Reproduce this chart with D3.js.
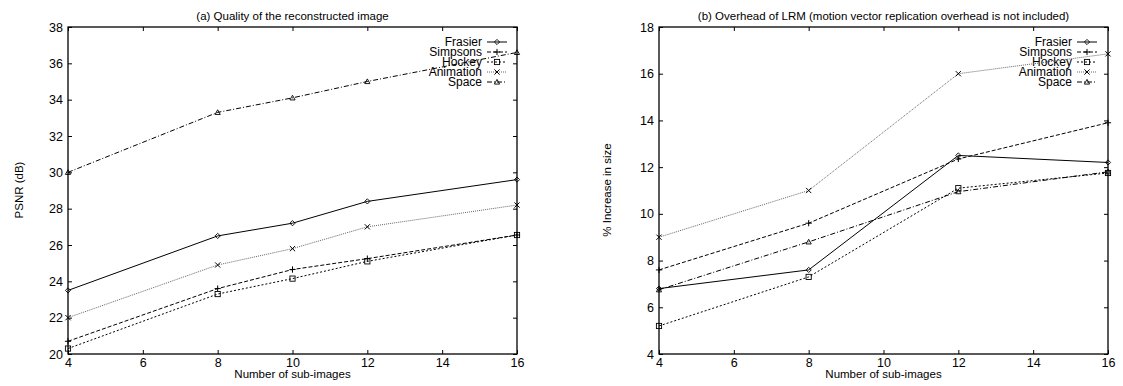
<!DOCTYPE html>
<html>
<head>
<meta charset="utf-8">
<script src="https://cdn.jsdelivr.net/npm/d3@7"></script>
<style>
  body { margin: 0; background: #fff; }
  text { font-family: "Liberation Sans", Arial, sans-serif; fill: #000; }
</style>
</head>
<body>
<div id="chart"></div>
<script>
var seriesNames = ["Frasier", "Simpsons", "Hockey", "Animation", "Space"];

// (a) PSNR in dB
var xA = [4, 8, 10, 12, 16];
var frasierA = [23.5, 26.5, 27.2, 28.4, 29.6];
var simpsonsA = [20.7, 23.6, 24.65, 25.25, 26.55];
var hockeyA = [20.3, 23.3, 24.15, 25.1, 26.55];
var animationA = [22.0, 24.9, 25.8, 27.0, 28.2];
var spaceA = [30.0, 33.3, 34.1, 35.0, 36.6];

// (b) % increase in size
var xB = [4, 8, 12, 16];
var frasierB = [6.8, 7.6, 12.5, 12.2];
var simpsonsB = [7.6, 9.6, 12.35, 13.9];
var hockeyB = [5.2, 7.3, 11.1, 11.75];
var animationB = [9.0, 11.0, 16.0, 16.85];
var spaceB = [6.75, 8.8, 10.95, 11.8];

var xTicks = [4, 6, 8, 10, 12, 14, 16];
var yTicksA = [20, 22, 24, 26, 28, 30, 32, 34, 36, 38];
var yTicksB = [4, 6, 8, 10, 12, 14, 16, 18];

var styles = {
    "Frasier": { dash: null, stroke: "#000", width: 1 },
    "Simpsons": { dash: "4,2", stroke: "#000", width: 1 },
    "Hockey": { dash: "2,2", stroke: "#000", width: 1 },
    "Animation": { dash: "1,1", stroke: "#666", width: 1 },
    "Space": { dash: "5,2,1,2", stroke: "#000", width: 1 }
};

var width = 1123, height = 386;
var svg = d3.select("#chart").append("svg").attr("width", width).attr("height", height);

function marker(g, name, x, y) {
    var s = 2.6;
    if (name == "Frasier") {
        g.append("path").attr("d", "M" + x + "," + (y - s) + "L" + (x + s) + "," + y + "L" + x + "," + (y + s) + "L" + (x - s) + "," + y + "Z")
            .attr("fill", "none").attr("stroke", "#000").attr("stroke-width", 0.9);
    } else if (name == "Simpsons") {
        g.append("path").attr("d", "M" + (x - s - 0.5) + "," + y + "H" + (x + s + 0.5) + "M" + x + "," + (y - s - 0.5) + "V" + (y + s + 0.5))
            .attr("stroke", "#000").attr("stroke-width", 1);
    } else if (name == "Hockey") {
        g.append("rect").attr("x", x - s).attr("y", y - s).attr("width", 2 * s).attr("height", 2 * s)
            .attr("fill", "none").attr("stroke", "#000").attr("stroke-width", 0.9);
    } else if (name == "Animation") {
        g.append("path").attr("d", "M" + (x - s) + "," + (y - s) + "L" + (x + s) + "," + (y + s) + "M" + (x + s) + "," + (y - s) + "L" + (x - s) + "," + (y + s))
            .attr("stroke", "#000").attr("stroke-width", 1);
    } else {
        g.append("path").attr("d", "M" + x + "," + (y - s) + "L" + (x + s) + "," + (y + s * 0.8) + "L" + (x - s) + "," + (y + s * 0.8) + "Z")
            .attr("fill", "none").attr("stroke", "#000").attr("stroke-width", 0.9);
    }
}

function drawPanel(opt) {
    var x = d3.scaleLinear().domain([4, 16]).range([opt.left, opt.right]);
    var y = d3.scaleLinear().domain(opt.yDomain).range([354, 27]);
    var g = svg.append("g");

    // ticks inward on all four sides
    g.append("g").attr("transform", "translate(0,354)")
        .call(d3.axisBottom(x).tickValues(xTicks).tickSizeInner(-4).tickSizeOuter(0).tickPadding(4))
        .call(function(a) { a.select(".domain").remove(); });
    g.append("g").attr("transform", "translate(0,27)")
        .call(d3.axisTop(x).tickValues(xTicks).tickSizeInner(-4).tickSizeOuter(0).tickFormat(""))
        .call(function(a) { a.select(".domain").remove(); });
    g.append("g").attr("transform", "translate(" + opt.left + ",0)")
        .call(d3.axisLeft(y).tickValues(opt.yTicks).tickSizeInner(-4).tickSizeOuter(0).tickPadding(5))
        .call(function(a) { a.select(".domain").remove(); });
    g.append("g").attr("transform", "translate(" + opt.right + ",0)")
        .call(d3.axisRight(y).tickValues(opt.yTicks).tickSizeInner(-4).tickSizeOuter(0).tickFormat(""))
        .call(function(a) { a.select(".domain").remove(); });
    g.selectAll(".tick line").attr("stroke", "#000");
    g.selectAll(".tick text").style("font-family", "Liberation Sans, Arial, sans-serif").style("font-size", "12.5px").attr("fill", "#000");

    g.append("rect").attr("x", opt.left).attr("y", 27).attr("width", opt.right - opt.left).attr("height", 327)
        .attr("fill", "none").attr("stroke", "#000").attr("stroke-width", 1.3);

    var line = d3.line().x(function(d) { return x(d[0]); }).y(function(d) { return y(d[1]); });

    opt.series.forEach(function(vals, i) {
        var name = seriesNames[i];
        var st = styles[name];
        var pts = opt.xs.map(function(v, j) { return [v, vals[j]]; });
        g.append("path").datum(pts).attr("d", line).attr("fill", "none")
            .attr("stroke", st.stroke).attr("stroke-width", st.width)
            .attr("stroke-dasharray", st.dash);
        pts.forEach(function(p) { marker(g, name, x(p[0]), y(p[1])); });

        // legend (rows are packed tightly, as in the original)
        var ly = 42 + i * 10;
        g.append("text").attr("x", opt.legendX).attr("y", ly).attr("dy", "0.35em")
            .attr("text-anchor", "end").style("font-size", "12px").text(name);
        g.append("line").attr("x1", opt.legendX + 5).attr("x2", opt.legendX + 25).attr("y1", ly).attr("y2", ly)
            .attr("stroke", st.stroke).attr("stroke-width", st.width).attr("stroke-dasharray", st.dash);
        marker(g, name, opt.legendX + 15, ly);
    });

    g.append("text").attr("x", (opt.left + opt.right) / 2).attr("y", 20).attr("text-anchor", "middle")
        .style("font-size", "11.5px").text(opt.title);
    g.append("text").attr("x", (opt.left + opt.right) / 2).attr("y", 378).attr("text-anchor", "middle")
        .style("font-size", "11.5px").text("Number of sub-images");
    g.append("text").attr("transform", "translate(" + opt.yLabelX + ",190) rotate(-90)").attr("text-anchor", "middle")
        .style("font-size", "11.5px").text(opt.yLabel);
}

drawPanel({
    left: 68, right: 517, yDomain: [20, 38], yTicks: yTicksA, xs: xA,
    series: [frasierA, simpsonsA, hockeyA, animationA, spaceA],
    legendX: 482, title: "(a) Quality of the reconstructed image",
    yLabel: "PSNR (dB)", yLabelX: 23
});
drawPanel({
    left: 659, right: 1108, yDomain: [4, 18], yTicks: yTicksB, xs: xB,
    series: [frasierB, simpsonsB, hockeyB, animationB, spaceB],
    legendX: 1072, title: "(b) Overhead of LRM (motion vector replication overhead is not included)",
    yLabel: "% Increase in size", yLabelX: 611
});
</script>
</body>
</html>
